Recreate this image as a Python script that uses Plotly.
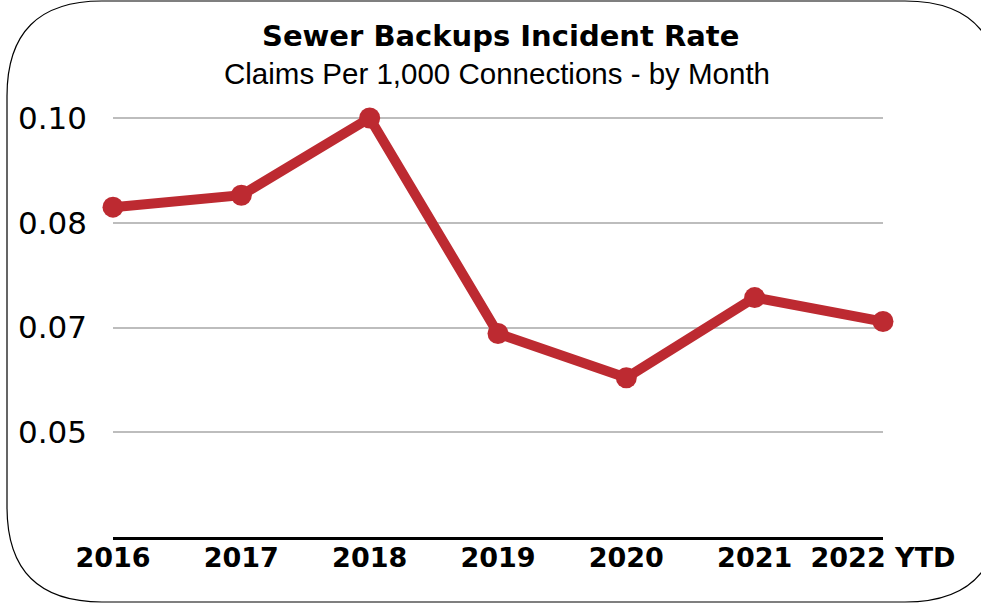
import plotly.graph_objects as go

years = ["2016", "2017", "2018", "2019", "2020", "2021", "2022 YTD"]
rates = [0.0851, 0.0871, 0.1000, 0.0640, 0.0566, 0.0700, 0.0660]
tick_vals = [0.1, 0.0825, 0.065, 0.0475]
tick_text = ["0.10", "0.08", "0.07", "0.05"]

W, H = 981, 614
L, R, T, B = 113, 98, 100, 77
x_idx = list(range(len(years)))

fig = go.Figure()
fig.add_trace(go.Scatter(
    x=x_idx, y=rates, mode="lines+markers",
    line=dict(color="#bd2a31", width=10),
    marker=dict(color="#bd2a31", size=21),
    cliponaxis=False, hoverinfo="skip", showlegend=False,
))

def px2paper(px, py):
    return (px - L) / (W - L - R), (H - B - py) / (H - T - B)

def P(px, py):
    a, b = px2paper(px, py)
    return f"{a:.5f},{b:.5f}"

x0, x1, y0, y1, r = 7, 1000, 1, 602, 95
path = (f"M {P(x0 + r, y0)} L {P(x1 - r, y0)} Q {P(x1, y0)} {P(x1, y0 + r)} "
        f"L {P(x1, y1 - r)} Q {P(x1, y1)} {P(x1 - r, y1)} "
        f"L {P(x0 + r, y1)} Q {P(x0, y1)} {P(x0, y1 - r)} "
        f"L {P(x0, y0 + r)} Q {P(x0, y0)} {P(x0 + r, y0)} Z")
fig.add_shape(type="path", path=path, xref="paper", yref="paper",
              line=dict(color="black", width=1.2), layer="below")

fig.add_annotation(text="<b>Sewer Backups Incident Rate</b>", xref="paper", yref="paper",
                   x=px2paper(500, 0)[0], y=px2paper(0, 36)[1], showarrow=False,
                   font=dict(family="DejaVu Sans", size=29, color="black"), xanchor="center", yanchor="middle")
fig.add_annotation(text="Claims Per 1,000 Connections - by Month", xref="paper", yref="paper",
                   x=px2paper(497, 0)[0], y=px2paper(0, 74)[1], showarrow=False,
                   font=dict(family="Liberation Sans", size=29.5, color="black"), xanchor="center", yanchor="middle")

ylo = 0.03
yhi = 0.1 + (0.1 - ylo) / (536.7 - 118) * (118 - T)

fig.update_layout(
    width=W, height=H, margin=dict(l=L, r=R, t=T, b=B),
    paper_bgcolor="white", plot_bgcolor="white",
    xaxis=dict(range=[0, 6], tickmode="array", tickvals=x_idx, ticktext=years,
               showgrid=False, zeroline=False, showline=True, linecolor="black", linewidth=3,
               ticks="", ticklabelstandoff=-5,
               tickfont=dict(family="DejaVu Sans", size=27, color="black", weight="bold")),
    yaxis=dict(range=[ylo, yhi], tickmode="array", tickvals=tick_vals, ticktext=tick_text,
               showgrid=True, gridcolor="#bdbdbd", gridwidth=2, zeroline=False, showline=False,
               ticks="", ticklabelstandoff=25,
               tickfont=dict(family="DejaVu Sans", size=31, color="black")),
)

fig.write_html("out.html", config={"displayModeBar": False})
with open("out.html", "r", encoding="utf-8") as f:
    html = f.read()
html = html.replace("<head>", "<head><style>html,body{margin:0;padding:0;overflow:hidden}</style>", 1)
with open("out.html", "w", encoding="utf-8") as f:
    f.write(html)
